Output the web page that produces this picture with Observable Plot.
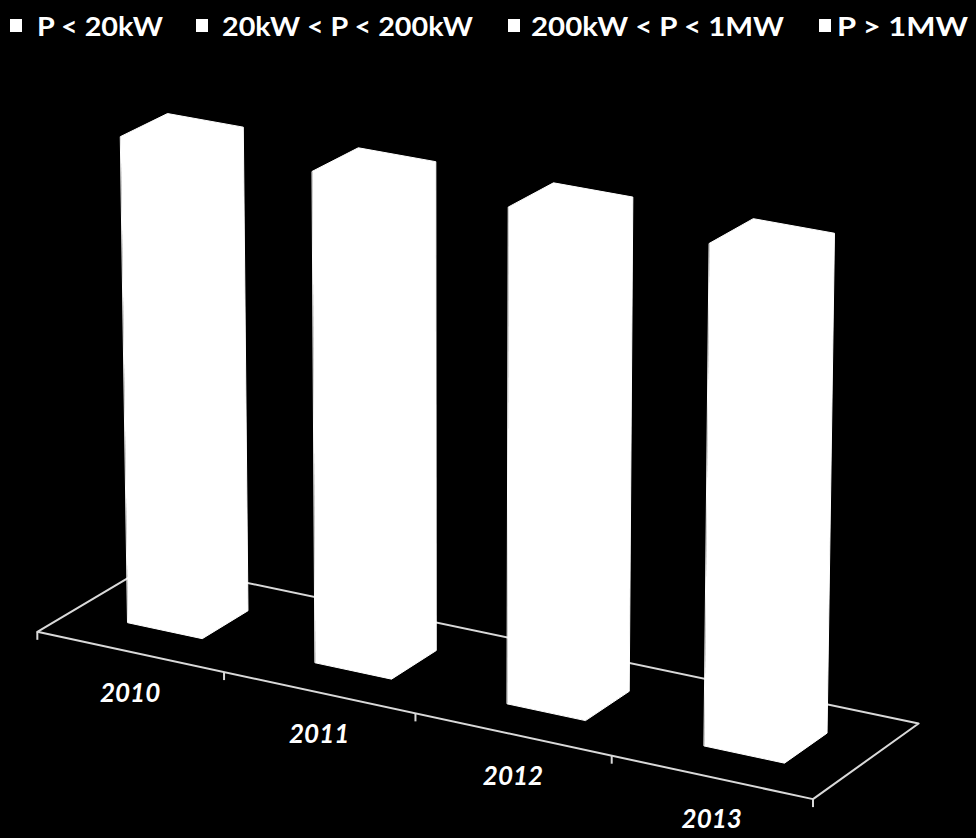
<!DOCTYPE html>
<html><head><meta charset="utf-8">
<script src="https://cdn.jsdelivr.net/npm/d3@7"></script>
<script src="https://cdn.jsdelivr.net/npm/@observablehq/plot@0.6"></script>
<style>
html,body{margin:0;padding:0;background:#000;}
#wrap{position:relative;width:976px;height:838px;overflow:hidden;background:#000;}
#legend{position:absolute;left:0;top:0;}
</style></head>
<body><div id="wrap"></div>
<script>
// ---- data ----
const years = ["2010", "2011", "2012", "2013"];
const seriesNames = ["P < 20kW", "20kW < P < 200kW", "200kW < P < 1MW", "P > 1MW"];
// 100% stacked columns: every year totals 100 %
const totals = [100, 100, 100, 100];

// ---- perspective projection of the 3D chart box (fitted camera) ----
function solve(A, b) {
  const n = b.length, M = A.map((r, i) => [...r, b[i]]);
  for (let c = 0; c < n; c++) {
    let p = c;
    for (let r = c + 1; r < n; r++) if (Math.abs(M[r][c]) > Math.abs(M[p][c])) p = r;
    [M[c], M[p]] = [M[p], M[c]];
    for (let r = 0; r < n; r++) if (r !== c) {
      const f = M[r][c] / M[c][c];
      for (let k = c; k <= n; k++) M[r][k] -= f * M[c][k];
    }
  }
  return M.map((r, i) => r[n] / r[i]);
}
// least-squares homography from (u,d) plane coords to screen
function homography(pairs) {
  const A = [], b = [];
  for (const [[u, d], [X, Y]] of pairs) {
    const x = u / 4, y = d;
    A.push([x, y, 1, 0, 0, 0, -X * x, -X * y]); b.push(X);
    A.push([0, 0, 0, x, y, 1, -Y * x, -Y * y]); b.push(Y);
  }
  const AtA = d3.range(8).map(i => d3.range(8).map(j => d3.sum(A, r => r[i] * r[j])));
  const Atb = d3.range(8).map(i => d3.sum(A, (r, k) => r[i] * b[k]));
  const h = solve(AtA, Atb);
  return (u, d) => {
    const x = u / 4, y = d, w = h[6] * x + h[7] * y + 1;
    return [(h[0] * x + h[1] * y + h[2]) / w, (h[3] * x + h[4] * y + h[5]) / w];
  };
}
const floorH = homography([
  [[0,0],[37,630]], [[4,0],[812,797]], [[0,1],[153,563]], [[4,1],[918,723]],
  [[1,0],[224,673]], [[2,0],[415,715]], [[3,0],[611,757]],
  [[.3,.3],[127,622]], [[.7,.3],[202,637]], [[.7,.7],[247,611]],
  [[1.3,.3],[315,662]], [[1.7,.3],[390,678]], [[1.7,.7],[436,650]],
  [[2.3,.3],[507,703]], [[2.7,.3],[585,719]], [[2.7,.7],[628,691]],
  [[3.3,.3],[705,746]], [[3.7,.3],[784,762]], [[3.7,.7],[827,733]]
]);
const topH = homography([
  [[.3,.3],[120,136]], [[.3,.7],[167,113]], [[.7,.7],[243,126]],
  [[1.3,.3],[312,171]], [[1.3,.7],[358,148]], [[1.7,.7],[435,161]],
  [[2.3,.3],[508,207]], [[2.3,.7],[553,182]], [[2.7,.7],[632,197]],
  [[3.3,.3],[709,242]], [[3.3,.7],[753,218]], [[3.7,.7],[834,233]]
]);
const nCat = years.length;
const vMax = 100;
function project(u, d, v) {
  const f = floorH(u, d), t = topH(u, d), k = v / vMax;
  return {x: f[0] + (t[0] - f[0]) * k, y: f[1] + (t[1] - f[1]) * k};
}

// floor outline
const floorRows = [[0,0],[nCat,0],[nCat,1],[0,1]].map(([u,d], i) => ({i, ...project(u, d, 0)}));
// category ticks on the front edge
const tickRows = d3.range(nCat + 1).map(i => project(i, 0, 0));
// bar silhouettes (front + right side + top faces, all white)
const barRows = [];
totals.forEach((v, i) => {
  const u0 = i + 0.3, u1 = i + 0.7, d0 = 0.3, d1 = 0.7;
  [[u0,d0,0],[u1,d0,0],[u1,d1,0],[u1,d1,v],[u0,d1,v],[u0,d0,v]]
    .forEach(([u,d,h]) => barRows.push({year: years[i], ...project(u, d, h)}));
});
const labelRows = years.map((y, i) => ({year: y, ...project(i + 0.5, 0, 0)}));

const W = 976, H = 838;
const font = "Lato, 'Open Sans', sans-serif";
const chart = Plot.plot({
  width: W, height: H, margin: 0,
  x: {domain: [0, W], range: [0, W], axis: null},
  y: {domain: [0, H], range: [0, H], axis: null},
  style: {background: "#000", color: "#fff", fontFamily: font},
  marks: [
    Plot.line(floorRows, {x: "x", y: "y", curve: "linear-closed", stroke: "#d9d9d9", strokeWidth: 2}),
    Plot.link(tickRows, {x1: "x", y1: "y", x2: "x", y2: d => d.y + 8, stroke: "#d9d9d9", strokeWidth: 2}),
    Plot.line(barRows, {x: "x", y: "y", z: "year", curve: "linear-closed", fill: "#fff", stroke: "#fff", strokeWidth: 1}),
    Plot.text(labelRows, {x: "x", y: "y", text: "year", dy: 42, fill: "#fff", fontSize: 26,
      fontWeight: "bold", fontStyle: "italic", fontFamily: font, textAnchor: "middle"})
  ]
});
const wrap = document.getElementById("wrap");
wrap.appendChild(chart);

// ---- legend (above the plot area) ----
const legendItems = [
  {sx: 10, tx: 37, tw: 126},
  {sx: 196, tx: 222, tw: 251},
  {sx: 508, tx: 531, tw: 253},
  {sx: 819, tx: 837, tw: 131}
];
const lg = d3.select(wrap).append("svg").attr("id", "legend").attr("width", W).attr("height", 50);
const items = lg.selectAll("g").data(seriesNames).join("g");
items.append("rect")
  .attr("x", (d, i) => legendItems[i].sx).attr("y", 19).attr("width", 12).attr("height", 13).attr("fill", "#fff");
items.append("text")
  .attr("x", (d, i) => legendItems[i].tx).attr("y", 36)
  .attr("textLength", (d, i) => legendItems[i].tw).attr("lengthAdjust", "spacingAndGlyphs")
  .attr("fill", "#fff").attr("font-family", font)
  .attr("font-weight", "bold").attr("font-size", 27).text(d => d);
</script></body></html>
